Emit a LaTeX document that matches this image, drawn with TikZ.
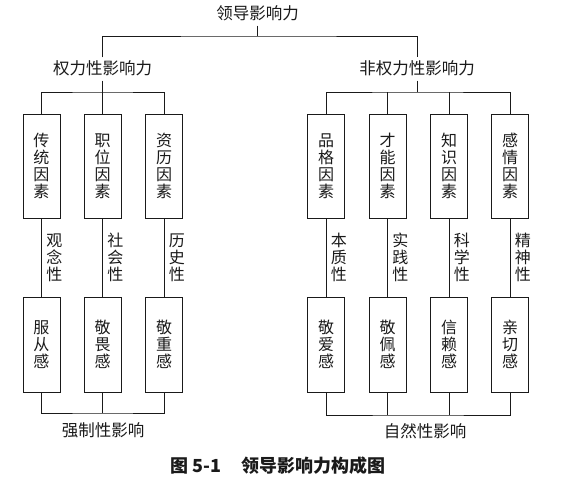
\documentclass[tikz,border=0pt]{standalone}
\usepackage{fontspec}
\usepackage{tikz}
\newfontfamily\cjk{Noto Sans CJK SC}
\definecolor{cInk}{HTML}{1A1A1A}
\tikzset{
  lab/.style ={font=\cjk\fontsize{16.5}{17}\selectfont, text=cInk, inner xsep=2pt,
               inner ysep=4pt, text height=13pt, text depth=2pt},
  fbox/.style={draw=cInk, line width=0.8pt, align=center, text=cInk, inner sep=0pt,
               font=\cjk\fontsize{16}{17}\selectfont, minimum width=37pt, minimum height=104pt},
  gbox/.style={fbox, minimum height=95pt},
  side/.style={right, align=center, text=cInk, inner xsep=4.5pt, inner ysep=0pt,
               font=\cjk\fontsize{16}{17}\selectfont},
  captxt/.style={font=\cjk\bfseries\fontsize{18}{18}\selectfont, text=cInk, inner sep=0pt},
  link/.style={draw=cInk, line width=0.8pt},
}

\begin{document}
\begin{tikzpicture}[x=1pt,y=-1pt]
        \useasboundingbox (0,0) rectangle (579,487);
        % heads
        \node[lab] (root) at (257.5,14){领导影响力};
        \node[lab] (pw) at (102.5,69){权力性影响力};
        \node[lab] (npw) at (417,69){非权力性影响力};
        % factors
        \node[fbox] (f1) at (41.5,166){传\\统\\因\\素};
        \node[fbox] (f2) at (102.5,166){职\\位\\因\\素};
        \node[fbox] (f3) at (164,166){资\\历\\因\\素};
        \node[fbox] (f4) at (326,166){品\\格\\因\\素};
        \node[fbox] (f5) at (387.5,166){才\\能\\因\\素};
        \node[fbox] (f6) at (449,166){知\\识\\因\\素};
        \node[fbox] (f7) at (510,166){感\\情\\因\\素};
        % feelings
        \node[gbox] (g1) at (41.5,344.5){服\\从\\感};
        \node[gbox] (g2) at (102.5,344.5){敬\\畏\\感};
        \node[gbox] (g3) at (164,344.5){敬\\重\\感};
        \node[gbox] (g4) at (326,344.5){敬\\爱\\感};
        \node[gbox] (g5) at (387.5,344.5){敬\\佩\\感};
        \node[gbox] (g6) at (449,344.5){信\\赖\\感};
        \node[gbox] (g7) at (510,344.5){亲\\切\\感};
        % results
        \node[lab] (coer) at (103,431){强制性影响};
        \node[lab] (natu) at (425,432){自然性影响};
        \node[captxt] (caption) at (278,466){图 5-1\hspace{1.1em}领导影响力构成图};

        \coordinate (top) at (257.5,36);
        \coordinate (pwbar) at (102.5,92);
        \coordinate (npwbar) at (417,92);
        \coordinate (cbar) at (102.5,413);
        \coordinate (nbar) at (418,415);

        \draw[link] (root.south) -- (top);
        \draw[link] (pw.north) |- (top) -| (npw.north);
        \draw[link] (pw.south) -- (pwbar);
        \draw[link] (f1.north) |- (pwbar) -| (f3.north);
        \draw[link] (f2.north) -- (pwbar);
        \draw[link] (npw.south) -- (npwbar);
        \draw[link] (f4.north) |- (npwbar) -| (f7.north);
        \draw[link] (f5.north) -- (f5.north |- npwbar);
        \draw[link] (f6.north) -- (f6.north |- npwbar);

        \draw[link] (f1.south) -- node[side]{观\\念\\性} (g1.north);
        \draw[link] (f2.south) -- node[side]{社\\会\\性} (g2.north);
        \draw[link] (f3.south) -- node[side]{历\\史\\性} (g3.north);
        \draw[link] (f4.south) -- node[side]{本\\质\\性} (g4.north);
        \draw[link] (f5.south) -- node[side]{实\\践\\性} (g5.north);
        \draw[link] (f6.south) -- node[side]{科\\学\\性} (g6.north);
        \draw[link] (f7.south) -- node[side]{精\\神\\性} (g7.north);

        \draw[link] (g1.south) |- (cbar) -| (g3.south);
        \draw[link] (g2.south) -- (cbar);
        \draw[link] (g4.south) |- (nbar) -| (g7.south);
        \draw[link] (g5.south) -- (g5.south |- nbar);
        \draw[link] (g6.south) -- (g6.south |- nbar);
      \end{tikzpicture}
\end{document}
